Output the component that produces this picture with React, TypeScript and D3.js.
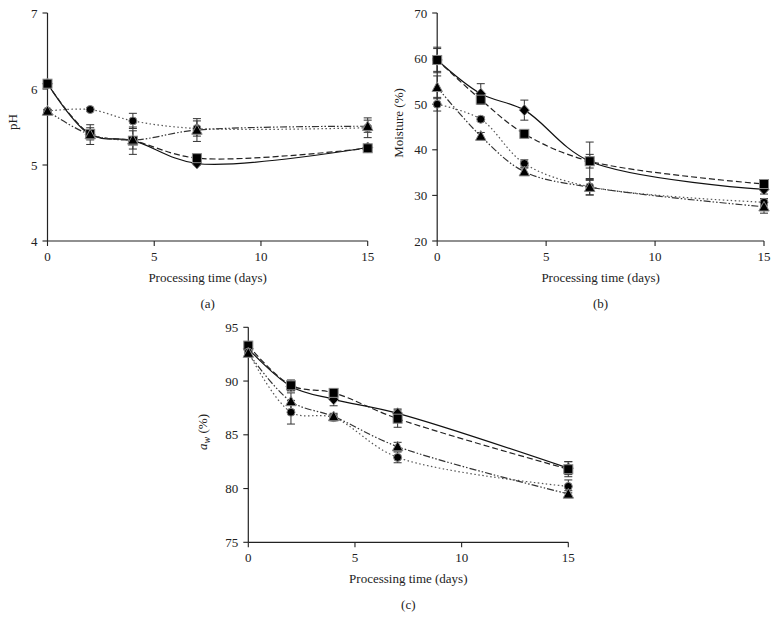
import React from "react";
import * as d3 from "d3";

const days = [0, 2, 4, 7, 15];
const xTicks = [0, 5, 10, 15];

// (a) pH
const phDiamond = [6.07, 5.4, 5.32, 5.02, 5.23];
const phSquare = [6.07, 5.41, 5.32, 5.09, 5.22];
const phCircle = [5.71, 5.73, 5.58, 5.48, 5.49];
const phTriangle = [5.71, 5.4, 5.33, 5.46, 5.51];
const phDiamondErr = [0.02, 0.05, 0.05, 0.02, 0.03];
const phSquareErr = [0.02, 0.08, 0.18, 0.04, 0.04];
const phCircleErr = [0.02, 0.02, 0.1, 0.1, 0.13];
const phTriangleErr = [0.02, 0.13, 0.12, 0.15, 0.08];
const phTicks = [4, 5, 6, 7];

// (b) Moisture
const moDiamond = [59.7, 52.3, 48.7, 37.5, 31.3];
const moSquare = [59.7, 51.0, 43.5, 37.5, 32.5];
const moCircle = [50.0, 46.7, 37.0, 31.9, 28.5];
const moTriangle = [53.7, 43.0, 35.2, 31.8, 27.5];
const moDiamondErr = [2.5, 2.2, 2.2, 1.5, 1.0];
const moSquareErr = [2.8, 1.0, 0.8, 4.2, 0.7];
const moCircleErr = [1.5, 0.5, 0.8, 1.8, 0.8];
const moTriangleErr = [2.5, 0.8, 0.8, 1.7, 1.4];
const moTicks = [20, 30, 40, 50, 60, 70];

// (c) water activity
const awDiamond = [93.0, 89.5, 88.3, 87.0, 81.9];
const awSquare = [93.3, 89.6, 88.9, 86.5, 81.8];
const awCircle = [92.7, 87.1, 86.6, 82.9, 80.2];
const awTriangle = [92.6, 88.1, 86.7, 83.9, 79.5];
const awDiamondErr = [0.3, 0.4, 0.6, 0.4, 0.6];
const awSquareErr = [0.3, 0.5, 0.4, 0.8, 0.7];
const awCircleErr = [0.3, 1.1, 0.3, 0.5, 0.6];
const awTriangleErr = [0.3, 0.8, 0.3, 0.4, 0.3];
const awTicks = [75, 80, 85, 90, 95];

type Series = { vals: number[]; err: number[]; shape: string; dash: string; color: string };

const FONT = "Liberation Serif, serif";

function Marker({ shape, x, y }: { shape: string; x: number; y: number }) {
  const st = { fill: "#000", stroke: "#888", strokeWidth: 1 };
  if (shape === "square") return <rect x={x - 4.5} y={y - 4.5} width={9} height={9} {...st} />;
  if (shape === "circle") return <circle cx={x} cy={y} r={4} {...st} />;
  if (shape === "triangle")
    return <path d={`M${x},${y - 5.5}L${x + 5.2},${y + 4.2}L${x - 5.2},${y + 4.2}Z`} {...st} />;
  return <path d={`M${x},${y - 5.5}L${x + 5},${y}L${x},${y + 5.5}L${x - 5},${y}Z`} {...st} />;
}

function Panel({
  x0, x1, yTop, yBot, domain, ticks, series, ylabel, tag, labelX, labelY,
}: {
  x0: number; x1: number; yTop: number; yBot: number; domain: [number, number]; ticks: number[];
  series: Series[]; ylabel: React.ReactNode; tag: string; labelX: number; labelY: number;
}) {
  const x = d3.scaleLinear().domain([0, 15]).range([x0, x1]);
  const y = d3.scaleLinear().domain(domain).range([yBot, yTop]);
  const line = d3.line<number>().x((_, i) => x(days[i])).y((v) => y(v)).curve(d3.curveCatmullRom.alpha(0.5));
  const order = ["diamond", "square", "circle", "triangle"];
  return (
    <g fontFamily={FONT} fill="#222">
      <line x1={x0} x2={x0} y1={yTop} y2={yBot} stroke="#222" strokeWidth={1.2} />
      <line x1={x0} x2={x1} y1={yBot} y2={yBot} stroke="#222" strokeWidth={1.2} />
      {ticks.map((t) => (
        <g key={"y" + t}>
          <line x1={x0 - 5} x2={x0} y1={y(t)} y2={y(t)} stroke="#222" strokeWidth={1.1} />
          <text x={x0 - 10} y={y(t) + 4.5} textAnchor="end" fontSize={13}>{t}</text>
        </g>
      ))}
      {xTicks.map((t) => (
        <g key={"x" + t}>
          <line x1={x(t)} x2={x(t)} y1={yBot} y2={yBot + 5} stroke="#222" strokeWidth={1.1} />
          <text x={x(t)} y={yBot + 20} textAnchor="middle" fontSize={13}>{t}</text>
        </g>
      ))}
      <text x={(x0 + x1) / 2} y={yBot + 41} textAnchor="middle" fontSize={13}>Processing time (days)</text>
      <text x={(x0 + x1) / 2} y={yBot + 67} textAnchor="middle" fontSize={13}>{tag}</text>
      <text transform={`translate(${labelX},${labelY}) rotate(-90)`} textAnchor="middle" fontSize={13}>{ylabel}</text>
      {series.map((s, k) => (
        <path key={"l" + k} d={line(s.vals) || ""} fill="none" stroke={s.color} strokeWidth={1.2} strokeDasharray={s.dash} />
      ))}
      {series.map((s, k) =>
        s.vals.map((v, i) => {
          const cx = x(days[i]);
          const lo = y(v - s.err[i]);
          const hi = y(v + s.err[i]);
          return (
            <g key={"e" + k + "-" + i} stroke="#333" strokeWidth={1}>
              <line x1={cx} x2={cx} y1={lo} y2={hi} />
              <line x1={cx - 4} x2={cx + 4} y1={lo} y2={lo} />
              <line x1={cx - 4} x2={cx + 4} y1={hi} y2={hi} />
            </g>
          );
        })
      )}
      {order.map((shape) =>
        series
          .filter((s) => s.shape === shape)
          .map((s) => s.vals.map((v, i) => <Marker key={shape + i} shape={shape} x={x(days[i])} y={y(v)} />))
      )}
    </g>
  );
}

const mk = (d: number[], s: number[], c: number[], t: number[], de: number[], se: number[], ce: number[], te: number[]): Series[] => [
  { vals: d, err: de, shape: "diamond", dash: "", color: "#111" },
  { vals: s, err: se, shape: "square", dash: "6,3", color: "#222" },
  { vals: c, err: ce, shape: "circle", dash: "1.5,2.5", color: "#555" },
  { vals: t, err: te, shape: "triangle", dash: "7,2,1.5,2,1.5,2", color: "#333" },
];

export default function App() {
  return (
    <svg width={779} height={618} style={{ position: "absolute", left: 0, top: 0, background: "#fff" }}>
      <Panel
        x0={47.5} x1={367.7} yTop={13} yBot={241} domain={[4, 7]} ticks={phTicks}
        series={mk(phDiamond, phSquare, phCircle, phTriangle, phDiamondErr, phSquareErr, phCircleErr, phTriangleErr)}
        ylabel="pH" tag="(a)" labelX={17} labelY={122}
      />
      <Panel
        x0={437.2} x1={764} yTop={13} yBot={241} domain={[20, 70]} ticks={moTicks}
        series={mk(moDiamond, moSquare, moCircle, moTriangle, moDiamondErr, moSquareErr, moCircleErr, moTriangleErr)}
        ylabel="Moisture (%)" tag="(b)" labelX={403} labelY={123}
      />
      <Panel
        x0={248.3} x1={568.3} yTop={327.3} yBot={542.3} domain={[75, 95]} ticks={awTicks}
        series={mk(awDiamond, awSquare, awCircle, awTriangle, awDiamondErr, awSquareErr, awCircleErr, awTriangleErr)}
        ylabel={<>
          <tspan fontStyle="italic">a</tspan>
          <tspan fontStyle="italic" fontSize={10} dy={3}>w</tspan>
          <tspan dy={-3}> (%)</tspan>
        </>}
        tag="(c)" labelX={207} labelY={432}
      />
    </svg>
  );
}
